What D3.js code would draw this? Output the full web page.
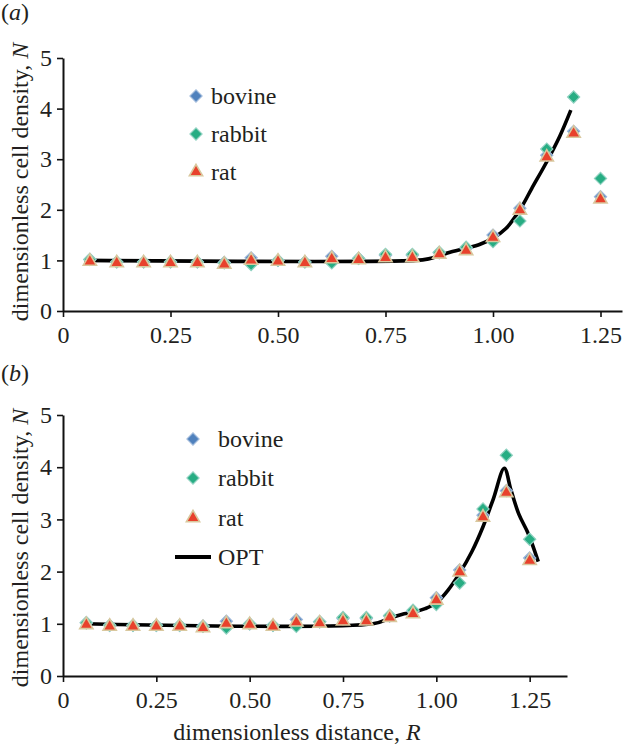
<!DOCTYPE html>
<html>
<head>
<meta charset="utf-8">
<script src="https://cdn.jsdelivr.net/npm/d3@7"></script>
<style>
  body { margin: 0; background: #fff; }
  svg { display: block; font-family: "Liberation Serif", "Times New Roman", serif; }
</style>
</head>
<body>
<script>
// data
var rValues = [0.0625, 0.125, 0.1875, 0.25, 0.3125, 0.375, 0.4375, 0.5, 0.5625, 0.625,
               0.6875, 0.75, 0.8125, 0.875, 0.9375, 1.0, 1.0625, 1.125, 1.1875, 1.25];
var bovine = [1.02, 0.97, 0.97, 0.97, 0.97, 0.96, 1.05, 1.00, 0.97, 1.08,
              1.04, 1.10, 1.10, 1.15, 1.24, 1.50, 2.03, 3.08, 3.55, 2.26];
var rabbit = [1.02, 0.97, 0.97, 0.97, 0.97, 0.95, 0.92, 1.00, 0.97, 0.95,
              1.04, 1.12, 1.12, 1.16, 1.26, 1.37, 1.78, 3.20, 4.23, 2.62];
var rat    = [0.98, 0.95, 0.95, 0.95, 0.95, 0.92, 1.00, 0.98, 0.95, 1.03,
              1.01, 1.05, 1.05, 1.12, 1.19, 1.45, 1.99, 3.04, 3.51, 2.21];

// model curve, panel (a)
var curveA_R = [0.05, 0.82, 0.85, 0.875, 0.9, 0.9375, 0.97, 1.0, 1.03, 1.0625, 1.09, 1.125, 1.155, 1.181];
var curveA_N = [1.0, 1.0, 1.03, 1.09, 1.16, 1.24, 1.32, 1.44, 1.63, 2.0, 2.42, 2.95, 3.45, 3.97];
// OPT curve, panel (b)
var curveB_R = [0.06, 0.83, 0.873, 0.907, 0.9375, 0.97, 1.0, 1.032, 1.0625, 1.095, 1.125, 1.153, 1.182, 1.2, 1.221, 1.246, 1.273];
var curveB_N = [1.0, 1.0, 1.1, 1.18, 1.22, 1.29, 1.4, 1.65, 1.97, 2.38, 2.86, 3.4, 3.98, 3.56, 3.1, 2.73, 2.19];

var xTicks = [0, 0.25, 0.5, 0.75, 1.0, 1.25];
var xTickLabels = ["0", "0.25", "0.50", "0.75", "1.00", "1.25"];
var yTicks = [0, 1, 2, 3, 4, 5];
var seriesNames = ["bovine", "rabbit", "rat"];

var colors = {
  bovine: { fill: "#4f81bd", stroke: "#9db8da" },
  rabbit: { fill: "#27ad83", stroke: "#8fd1c0" },
  rat:    { fill: "#e8412c", stroke: "#d9c89e" }
};

var FS = 24;

var svg = d3.select("body").append("svg")
  .attr("width", 624)
  .attr("height", 747);

var diamond = d3.symbol(d3.symbolSquare, 74);
var triangle = d3.symbol(d3.symbolTriangle, 76);

function marker(g, name, x, y) {
  var c = colors[name];
  if (name === "rat") {
    g.append("path").attr("d", triangle())
      .attr("transform", "translate(" + x + "," + y + ")")
      .attr("fill", c.fill).attr("stroke", c.stroke).attr("stroke-width", 1.6);
  } else {
    g.append("path").attr("d", diamond())
      .attr("transform", "translate(" + x + "," + y + ") rotate(45)")
      .attr("fill", c.fill).attr("stroke", c.stroke).attr("stroke-width", 1.2);
  }
}

function drawPanel(p) {
  var x = d3.scaleLinear().domain([0, p.xMax]).range([63, p.xRight]);
  var y = d3.scaleLinear().domain([0, 5]).range([p.yBottom, p.yTop]);
  var g = svg.append("g");

  // panel letter
  var lab = g.append("text").attr("x", 1).attr("y", p.letterY)
    .attr("font-size", FS).attr("fill", "#231f20");
  lab.append("tspan").text("(");
  lab.append("tspan").attr("font-style", "italic").text(p.letter);
  lab.append("tspan").text(")");

  // axes
  var xAxis = d3.axisBottom(x).tickValues(xTicks)
    .tickFormat(function(d, i) { return xTickLabels[i]; })
    .tickSize(6).tickSizeOuter(0).tickPadding(9);
  var yAxis = d3.axisLeft(y).tickValues(yTicks)
    .tickFormat(d3.format("d"))
    .tickSize(6).tickSizeOuter(0).tickPadding(5);

  var gx = g.append("g").attr("transform", "translate(0," + p.yBottom + ")").call(xAxis);
  var gy = g.append("g").attr("transform", "translate(63,0)").call(yAxis);
  [gx, gy].forEach(function(a) {
    a.attr("font-family", null).attr("font-size", null);
    a.select(".domain").attr("stroke", "#111").attr("stroke-width", 2);
    a.selectAll(".tick line").attr("stroke", "#111").attr("stroke-width", 1.6);
    a.selectAll(".tick text").attr("font-size", FS).attr("fill", "#231f20");
  });

  // y title
  var yt = g.append("text")
    .attr("transform", "translate(28," + p.yTitleMid + ") rotate(-90)")
    .attr("text-anchor", "middle").attr("font-size", FS).attr("fill", "#231f20");
  yt.append("tspan").text("dimensionless cell density, ");
  yt.append("tspan").attr("font-style", "italic").text("N");

  // model line
  var pts = p.curveR.map(function(r, i) { return [r, p.curveN[i]]; });
  var line = d3.line()
    .x(function(d) { return x(d[0]); })
    .y(function(d) { return y(d[1]); })
    .curve(d3.curveCatmullRom.alpha(0.5));
  g.append("path").datum(pts).attr("d", line)
    .attr("fill", "none").attr("stroke", "#000").attr("stroke-width", 3.6)
    .attr("stroke-linejoin", "round");

  // markers
  var seriesData = { bovine: bovine, rabbit: rabbit, rat: rat };
  seriesNames.forEach(function(name) {
    var sg = g.append("g");
    seriesData[name].forEach(function(v, i) {
      marker(sg, name, x(rValues[i]), y(v));
    });
  });

  // legend
  var lg = g.append("g");
  seriesNames.forEach(function(name, i) {
    var ly = p.legendY[i];
    marker(lg, name, p.legendMarkerX, ly);
    lg.append("text").attr("x", p.legendTextX).attr("y", ly + 8)
      .attr("font-size", FS).attr("fill", "#231f20").text(name);
  });
  if (p.showOpt) {
    var oy = p.legendY[3];
    lg.append("line").attr("x1", 175).attr("x2", 211).attr("y1", oy).attr("y2", oy)
      .attr("stroke", "#000").attr("stroke-width", 4);
    lg.append("text").attr("x", p.legendTextX).attr("y", oy + 8)
      .attr("font-size", FS).attr("fill", "#231f20").text("OPT");
  }

  if (p.xTitle) {
    var xt = g.append("text").attr("x", 297).attr("y", 740)
      .attr("text-anchor", "middle").attr("font-size", FS).attr("fill", "#231f20");
    xt.append("tspan").text("dimensionless distance, ");
    xt.append("tspan").attr("font-style", "italic").text("R");
  }
}

drawPanel({
  letter: "a", letterY: 20,
  xMax: 1.3, xRight: 622, yBottom: 311, yTop: 58, yTitleMid: 182,
  curveR: curveA_R, curveN: curveA_N,
  legendMarkerX: 196, legendTextX: 211, legendY: [96, 134, 172],
  showOpt: false, xTitle: false
});

drawPanel({
  letter: "b", letterY: 381,
  xMax: 1.35, xRight: 567, yBottom: 676, yTop: 415, yTitleMid: 548,
  curveR: curveB_R, curveN: curveB_N,
  legendMarkerX: 193, legendTextX: 218, legendY: [439, 478, 518, 557],
  showOpt: true, xTitle: true
});
</script>
</body>
</html>
